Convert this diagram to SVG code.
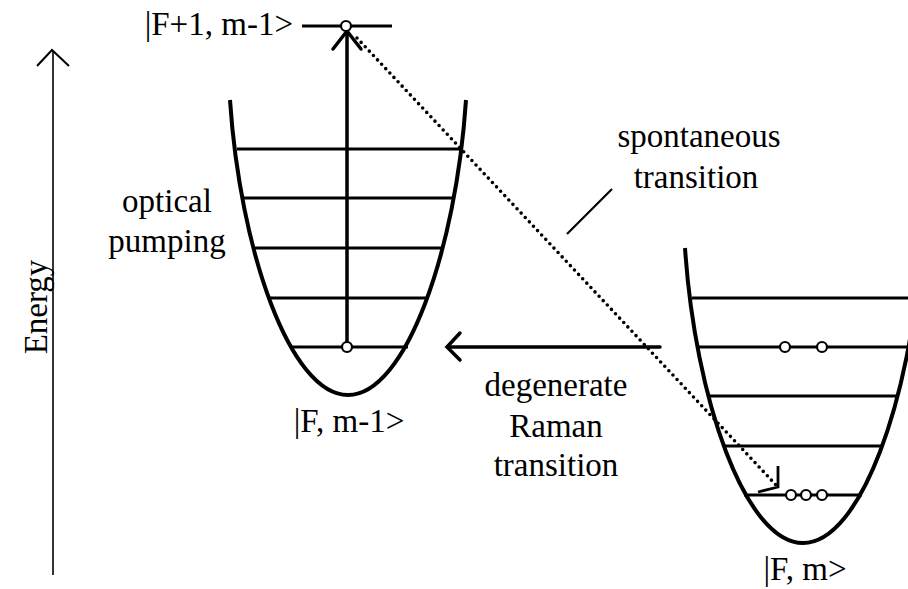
<svg xmlns="http://www.w3.org/2000/svg" width="908" height="589" viewBox="0 0 908 589">
<style>
text{font-family:"Liberation Serif","Times New Roman",serif;font-size:33px;fill:#000}
.well{fill:none;stroke:#000;stroke-width:4}
.lvl{stroke:#000;stroke-width:2.8}
.arr{fill:none;stroke:#000;stroke-width:3.5;stroke-linecap:round;stroke-linejoin:miter}
.atom{fill:#fff;stroke:#000;stroke-width:2.2}
</style>
<rect width="908" height="589" fill="#fff"/>
<g id="axis">
<line x1="53" y1="575" x2="53" y2="51" stroke="#000" stroke-width="1.6"/>
<polyline points="37,66 52,50 69,66" fill="none" stroke="#000" stroke-width="2"/>
<text transform="translate(47,307) rotate(-90)" text-anchor="middle">Energy</text>
</g>
<g id="well-left">
<path class="well" d="M230,100 C240,250 290,395 348,395 C406,395 456,250 466,100"/>
<line class="lvl" x1="237" y1="149" x2="460" y2="149"/>
<line class="lvl" x1="243" y1="198" x2="452" y2="198"/>
<line class="lvl" x1="255" y1="248" x2="442" y2="248"/>
<line class="lvl" x1="270" y1="298" x2="428" y2="298"/>
<line class="lvl" x1="290" y1="347" x2="408" y2="347"/>
<text x="349" y="432" text-anchor="middle">|F, m-1&gt;</text>
</g>
<g id="excited-level">
<line class="lvl" x1="302" y1="26" x2="392" y2="26" stroke-width="3.2"/>
<text x="293" y="35" text-anchor="end">|F+1, m-1&gt;</text>
</g>
<g id="well-right">
<path class="well" transform="translate(455,148)" d="M230,100 C240,250 290,395 348,395 C406,395 456,250 466,100"/>
<line class="lvl" x1="692" y1="298" x2="908" y2="298"/>
<line class="lvl" x1="698" y1="347" x2="908" y2="347"/>
<line class="lvl" x1="709" y1="396" x2="896" y2="396"/>
<line class="lvl" x1="724" y1="446" x2="883" y2="446"/>
<line class="lvl" x1="744" y1="495" x2="862" y2="495"/>
<text x="805" y="580" text-anchor="middle">|F, m&gt;</text>
</g>
<g id="connectors">
<line class="arr" x1="347" y1="343" x2="347" y2="31"/>
<polyline class="arr" points="333,49 347,31 361,49"/>
<line x1="357" y1="38" x2="776" y2="485" stroke="#000" stroke-width="3.6" stroke-linecap="round" stroke-dasharray="0 6"/>
<polyline points="778,466 778,487 758,492" fill="none" stroke="#000" stroke-width="2.8"/>
<line class="arr" x1="660" y1="347" x2="449" y2="347"/>
<polyline class="arr" points="460,333 447,347 460,360"/>
<line x1="567" y1="234" x2="612" y2="189" stroke="#000" stroke-width="2.2"/>
</g>
<g id="atoms">
<circle class="atom" cx="347" cy="347" r="5"/>
<circle class="atom" cx="346" cy="26" r="5"/>
<circle class="atom" cx="785" cy="347" r="5"/>
<circle class="atom" cx="822" cy="347" r="5"/>
<circle class="atom" cx="791" cy="495" r="5"/>
<circle class="atom" cx="806" cy="495" r="5"/>
<circle class="atom" cx="822" cy="495" r="5"/>
</g>
<g id="labels">
<text x="167" y="212" text-anchor="middle">optical</text>
<text x="167" y="252" text-anchor="middle">pumping</text>
<text x="699" y="147" text-anchor="middle">spontaneous</text>
<text x="696" y="188" text-anchor="middle">transition</text>
<text x="556" y="396" text-anchor="middle">degenerate</text>
<text x="556" y="437" text-anchor="middle">Raman</text>
<text x="556" y="476" text-anchor="middle">transition</text>
</g>
</svg>
